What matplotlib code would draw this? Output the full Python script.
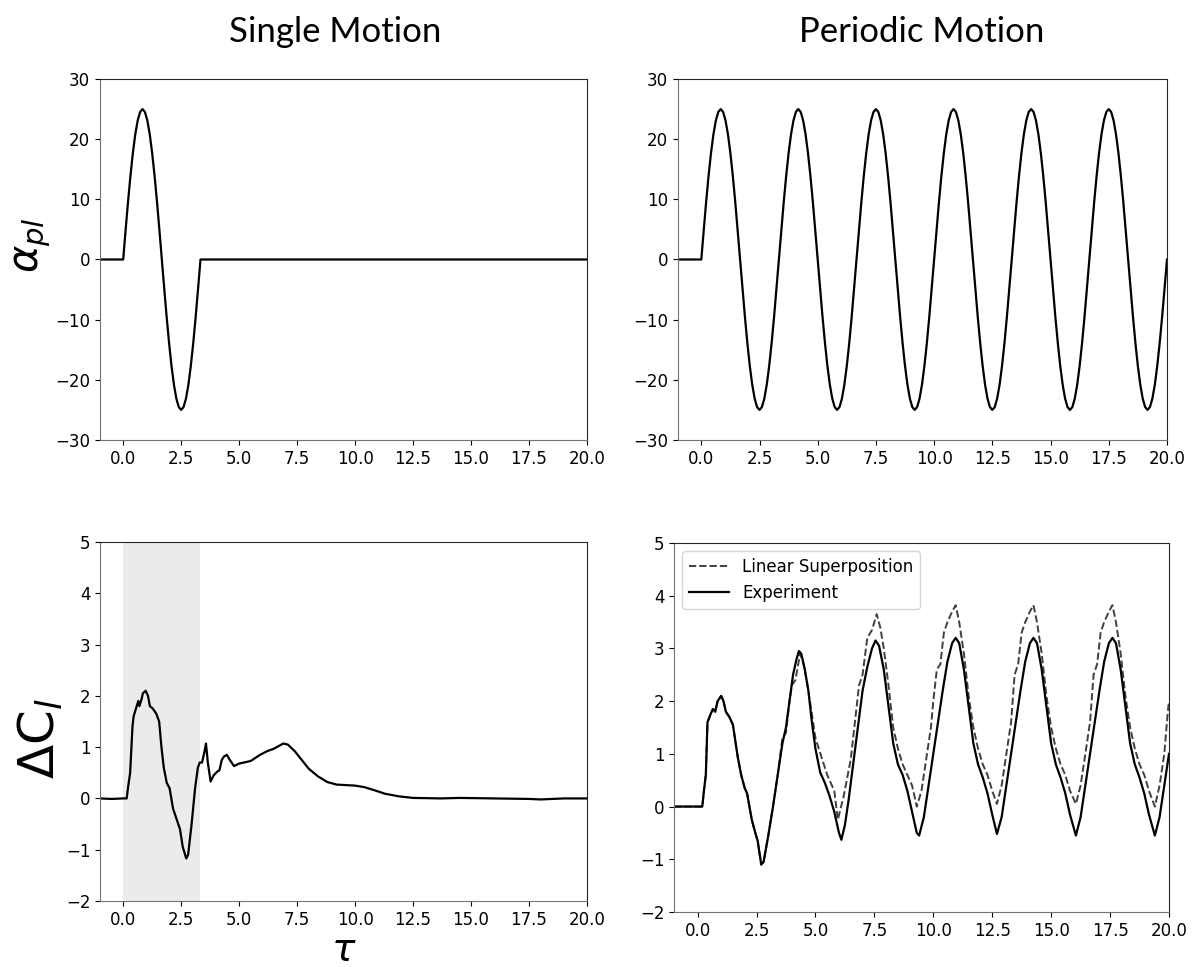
import matplotlib.pyplot as plt
import numpy as np

plt.rcParams['font.family'] = ['DejaVu Sans']
plt.rcParams['mathtext.fontset'] = 'dejavusans'

# pitch angle over one motion cycle [deg], sampled at 32 equal phase steps
alpha_cycle = [0.0, 4.88, 9.57, 13.89, 17.68, 20.79, 23.10, 24.52, 25.0,
               24.52, 23.10, 20.79, 17.68, 13.89, 9.57, 4.88, 0.0,
               -4.88, -9.57, -13.89, -17.68, -20.79, -23.10, -24.52, -25.0,
               -24.52, -23.10, -20.79, -17.68, -13.89, -9.57, -4.88]
period = 3.333
n_cycles = 6

# single motion, delta C_l
tau_single = [-1.0, -0.5, 0.0, 0.15, 0.22, 0.3, 0.4, 0.45, 0.55, 0.65, 0.7, 0.8, 0.85,
              0.97, 1.07, 1.15, 1.28, 1.43, 1.55, 1.65, 1.75, 1.88, 2.0, 2.15, 2.3,
              2.45, 2.57, 2.72, 2.8, 2.95, 3.1, 3.22, 3.3, 3.4, 3.5, 3.57, 3.65, 3.77,
              3.9, 4.05, 4.15, 4.25, 4.35, 4.47, 4.6, 4.78, 5.0, 5.5, 5.9, 6.2, 6.5,
              6.9, 7.1, 7.4, 7.7, 8.0, 8.4, 8.8, 9.2, 10.0, 10.4, 10.9, 11.3, 11.9,
              12.5, 13.7, 14.5, 16.0, 17.5, 18.0, 19.0, 20.0]
dcl_single = [0.0, -0.01, 0.0, 0.0, 0.25, 0.5, 1.4, 1.6, 1.75, 1.9, 1.8, 1.95, 2.05,
              2.1, 2.0, 1.8, 1.75, 1.65, 1.5, 1.0, 0.6, 0.3, 0.2, -0.2, -0.4,
              -0.6, -0.95, -1.17, -1.1, -0.5, 0.2, 0.6, 0.7, 0.7, 0.9, 1.07, 0.7, 0.33,
              0.45, 0.52, 0.55, 0.75, 0.82, 0.85, 0.75, 0.63, 0.68, 0.73, 0.85, 0.92, 0.97,
              1.07, 1.05, 0.92, 0.75, 0.58, 0.43, 0.32, 0.27, 0.25, 0.22, 0.15, 0.09, 0.04,
              0.01, 0.0, 0.01, 0.0, -0.01, -0.02, 0.0, 0.0]

# periodic motion, experiment
tau_exp = [-1.0, 0.2, 0.27, 0.35, 0.42, 0.55, 0.65, 0.75, 0.85, 1.0, 1.1, 1.2, 1.35,
           1.5, 1.7, 1.85, 2.0, 2.1, 2.3, 2.45, 2.55, 2.7, 2.8, 3.0, 3.2, 3.4, 3.6,
           3.75, 3.9, 4.05, 4.2, 4.3, 4.4, 4.55, 4.7, 4.85, 5.0, 5.2, 5.4, 5.6, 5.8,
           6.0, 6.1, 6.25, 6.4, 6.6, 6.8, 7.0, 7.2, 7.4, 7.55, 7.7, 7.9, 8.1, 8.3,
           8.5, 8.7, 8.9, 9.1, 9.3, 9.4, 9.6, 9.8, 10.0, 10.2, 10.4, 10.6, 10.8,
           10.95, 11.1, 11.3, 11.5, 11.7, 11.9, 12.1, 12.3, 12.5, 12.7, 12.9, 13.1,
           13.3, 13.5, 13.7, 13.9, 14.1, 14.25, 14.4, 14.6, 14.8, 15.0, 15.2, 15.4,
           15.6, 15.8, 16.05, 16.25, 16.45, 16.65, 16.85, 17.05, 17.25, 17.45, 17.6,
           17.75, 17.95, 18.15, 18.35, 18.55, 18.75, 18.95, 19.15, 19.4, 19.6, 19.8, 20.0]
dcl_exp = [0.0, 0.0, 0.3, 0.6, 1.6, 1.75, 1.85, 1.8, 2.0, 2.1, 2.0, 1.8, 1.7,
           1.55, 0.95, 0.6, 0.35, 0.25, -0.25, -0.5, -0.65, -1.1, -1.05, -0.55, 0.0, 0.6, 1.2,
           1.5, 2.0, 2.5, 2.8, 2.95, 2.9, 2.6, 2.2, 1.6, 1.1, 0.65, 0.45, 0.2, -0.1,
           -0.5, -0.63, -0.35, 0.1, 0.8, 1.5, 2.2, 2.65, 3.0, 3.15, 3.05, 2.6, 1.9, 1.2,
           0.8, 0.6, 0.3, -0.1, -0.5, -0.55, -0.2, 0.4, 1.0, 1.6, 2.2, 2.75, 3.1,
           3.2, 3.1, 2.6, 1.9, 1.2, 0.8, 0.55, 0.25, -0.15, -0.52, -0.2, 0.4,
           1.0, 1.6, 2.2, 2.75, 3.1, 3.2, 3.1, 2.6, 1.9, 1.2, 0.8, 0.55,
           0.25, -0.15, -0.55, -0.2, 0.4, 1.0, 1.6, 2.2, 2.75, 3.1, 3.2,
           3.1, 2.6, 1.9, 1.2, 0.8, 0.55, 0.25, -0.15, -0.55, -0.2, 0.4, 1.0]

# periodic motion, linear superposition
tau_lin = [-1.0, 0.2, 0.27, 0.35, 0.42, 0.55, 0.65, 0.75, 0.85, 1.0, 1.1, 1.2, 1.35,
           1.5, 1.7, 1.85, 2.0, 2.1, 2.3, 2.45, 2.55, 2.7, 2.8, 3.0, 3.2, 3.4, 3.6,
           3.75, 3.9, 4.0, 4.15, 4.35, 4.5, 4.7, 5.0, 5.5, 5.8, 5.95, 6.2, 6.5, 6.7,
           6.85, 7.0, 7.2, 7.4, 7.6, 7.75, 7.9, 8.1, 8.3, 8.5, 8.7, 8.9, 9.1, 9.3,
           9.5, 9.7, 9.9, 10.0, 10.15, 10.3, 10.45, 10.6, 10.8, 10.95, 11.1, 11.3,
           11.5, 11.7, 11.9, 12.1, 12.3, 12.5, 12.7, 12.9, 13.1, 13.3, 13.45, 13.6,
           13.75, 13.9, 14.1, 14.25, 14.4, 14.6, 14.8, 15.0, 15.2, 15.4, 15.6, 15.8,
           16.05, 16.25, 16.45, 16.65, 16.8, 16.95, 17.1, 17.25, 17.45, 17.6, 17.75,
           17.95, 18.15, 18.35, 18.55, 18.75, 18.95, 19.15, 19.4, 19.6, 19.8, 19.95, 20.0]
dcl_lin = [0.0, 0.0, 0.3, 0.6, 1.6, 1.75, 1.85, 1.8, 2.0, 2.1, 2.0, 1.8, 1.7,
           1.55, 0.95, 0.6, 0.35, 0.25, -0.25, -0.5, -0.65, -1.1, -1.05, -0.55, 0.0, 0.6, 1.3,
           1.4, 2.0, 2.3, 2.4, 2.9, 2.7, 2.2, 1.3, 0.6, 0.3, -0.25, 0.2, 0.9, 1.7,
           2.3, 2.5, 3.2, 3.35, 3.65, 3.4, 3.0, 2.3, 1.5, 1.1, 0.8, 0.6, 0.4, 0.0,
           0.3, 0.9, 1.5, 2.0, 2.6, 2.7, 3.3, 3.5, 3.7, 3.82, 3.5, 2.9,
           2.1, 1.5, 1.1, 0.8, 0.6, 0.3, 0.05, 0.4, 1.0, 1.6, 2.5, 2.7,
           3.3, 3.5, 3.7, 3.82, 3.5, 2.9, 2.1, 1.5, 1.1, 0.8, 0.6, 0.3,
           0.05, 0.4, 1.0, 1.6, 2.5, 2.7, 3.3, 3.5, 3.7, 3.82, 3.5,
           2.9, 2.1, 1.5, 1.1, 0.8, 0.6, 0.3, 0.0, 0.4, 1.0, 1.8, 2.0]

W, H = 1199, 967
fig = plt.figure(figsize=(W / 100, H / 100), dpi=100)


def box(x0, y0, x1, y1):
    # pixel box -> figure fraction
    return [x0 / W, 1 - y1 / H, (x1 - x0) / W, (y1 - y0) / H]


ax_a1 = fig.add_axes(box(100, 79, 587, 440))
ax_a2 = fig.add_axes(box(678, 79, 1167, 440))
ax_c1 = fig.add_axes(box(100, 542, 587, 901))
ax_c2 = fig.add_axes(box(674, 543, 1169, 912))

n = len(alpha_cycle)
step = period / n
t_cyc = np.arange(n) * step

# single motion pitch
t1 = [-1.0] + list(t_cyc) + [period, 20.0]
a1 = [0.0] + alpha_cycle + [0.0, 0.0]
ax_a1.plot(t1, a1, color='black', lw=1.6)

# periodic pitch
t2 = [-1.0] + list(np.concatenate([t_cyc + k * period for k in range(n_cycles)])) + [20.0]
a2 = [0.0] + alpha_cycle * n_cycles + [0.0]
ax_a2.plot(t2, a2, color='black', lw=1.6)

ax_c1.axvspan(0, period, color='#ebebeb', lw=0)
ax_c1.plot(tau_single, dcl_single, color='black', lw=1.6)

ax_c2.plot(tau_lin, dcl_lin, '--', color='#404040', lw=1.4, label='Linear Superposition')
ax_c2.plot(tau_exp, dcl_exp, color='black', lw=1.6, label='Experiment')
ax_c2.legend(loc='upper left', fontsize=12, edgecolor='0.8', handlelength=2.4)

for ax in (ax_a1, ax_a2):
    ax.set_ylim(-30, 30)
    ax.set_yticks([-30, -20, -10, 0, 10, 20, 30])
for ax in (ax_c1, ax_c2):
    ax.set_ylim(-2, 5)
for ax in (ax_a1, ax_a2, ax_c1, ax_c2):
    ax.set_xlim(-1, 20)
    ax.set_xticks(np.arange(0, 20.1, 2.5))
    ax.xaxis.set_major_formatter(plt.FormatStrFormatter('%.1f'))
    ax.tick_params(labelsize=12)
    for s in ('left', 'bottom'):
        ax.spines[s].set_color('0.45')
    for s in ('top', 'right'):
        ax.spines[s].set_color('0.15')

fig.text(335 / W, 1 - 32 / H, 'Single Motion', family='Lato', fontsize=25, ha='center', va='center')
fig.text(922 / W, 1 - 32 / H, 'Periodic Motion', family='Lato', fontsize=25, ha='center', va='center')
fig.text(32 / W, 1 - 245 / H, r'$\alpha_{pl}$', fontsize=30, rotation=90, ha='center', va='center')
fig.text(40 / W, 1 - 738 / H, r'$\Delta \mathrm{C}_l$', fontsize=36, rotation=90, ha='center', va='center')
fig.text(344 / W, 1 - 961 / H, r'$\tau$', fontsize=28, ha='center', va='baseline')

fig.savefig('out.png', dpi=100)
